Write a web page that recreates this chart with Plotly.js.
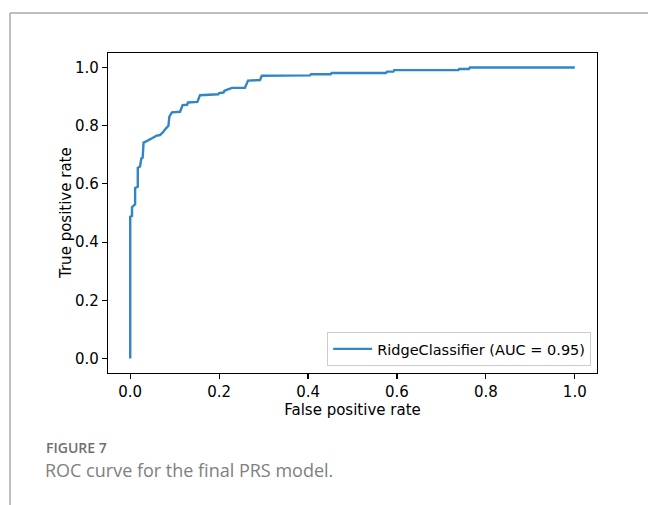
<!DOCTYPE html>
<html>
<head>
<meta charset="utf-8">
<script src="https://cdn.plot.ly/plotly-3.0.1.min.js"></script>
<style>
  html, body { margin: 0; padding: 0; background: #ffffff; }
  #chart { width: 648px; height: 505px; }
</style>
</head>
<body>
<div id="chart"></div>
<script>
// ROC curve points (false positive rate, true positive rate)
const fpr = [0, 0, 0.004, 0.004, 0.011, 0.011, 0.017, 0.017, 0.022, 0.025, 0.028, 0.030,
  0.037, 0.045, 0.049, 0.055, 0.058, 0.067, 0.072, 0.075, 0.080, 0.083, 0.086, 0.088,
  0.094, 0.112, 0.114, 0.118, 0.128, 0.130, 0.151, 0.157, 0.198, 0.200, 0.210, 0.212,
  0.217, 0.225, 0.229, 0.258, 0.265, 0.292, 0.296, 0.404, 0.407, 0.451, 0.453, 0.575,
  0.578, 0.592, 0.594, 0.738, 0.740, 0.762, 0.764, 1.0];
const tpr = [0, 0.487, 0.490, 0.520, 0.530, 0.586, 0.590, 0.655, 0.660, 0.688, 0.690, 0.742,
  0.747, 0.752, 0.757, 0.762, 0.765, 0.768, 0.775, 0.780, 0.790, 0.797, 0.800, 0.831,
  0.846, 0.848, 0.855, 0.871, 0.872, 0.880, 0.882, 0.905, 0.908, 0.912, 0.914, 0.920,
  0.923, 0.926, 0.930, 0.930, 0.955, 0.957, 0.972, 0.973, 0.977, 0.977, 0.981, 0.981,
  0.986, 0.986, 0.991, 0.991, 0.995, 0.995, 1.0, 1.0];
const seriesName = "RidgeClassifier (AUC = 0.95)";
const tickValues = [0, 0.2, 0.4, 0.6, 0.8, 1.0];
const tickLabels = ["0.0", "0.2", "0.4", "0.6", "0.8", "1.0"];
const xTitle = "False positive rate";
const yTitle = "True positive rate";
const figLabel = "FIGURE 7";
const captionText = "ROC curve for the final PRS model.";

// pixel helpers for the figure frame (plot area: x 108..597, y 53..373)
const L = 108, R = 597, T = 53, B = 373;
const px = v => (v - L) / (R - L);
const py = v => (B - v) / (B - T);

const axisFont = { family: "DejaVu Sans", size: 15, color: "#000000" };

const trace = {
  x: fpr, y: tpr, type: "scatter", mode: "lines", name: seriesName,
  line: { color: "#3186c6", width: 2.4 }
};

const layout = {
  width: 648, height: 505,
  margin: { l: L, r: 648 - R, t: T, b: 505 - B, pad: 0 },
  paper_bgcolor: "#ffffff", plot_bgcolor: "#ffffff",
  showlegend: true,
  legend: {
    x: 0.988, xanchor: "right", y: 0.022, yanchor: "bottom",
    bgcolor: "#ffffff", bordercolor: "#cccccc", borderwidth: 1,
    font: { family: "DejaVu Sans", size: 14.5, color: "#000000" }, itemwidth: 39
  },
  xaxis: {
    range: [-0.05, 1.05], tickvals: tickValues, ticktext: tickLabels,
    showgrid: false, zeroline: false, showline: true, mirror: true,
    linecolor: "#000000", linewidth: 1.1, ticks: "outside", ticklen: 5,
    tickwidth: 1.1, tickcolor: "#000000", tickfont: axisFont,
    title: { text: xTitle, font: axisFont, standoff: 3 }
  },
  yaxis: {
    range: [-0.05, 1.05], tickvals: tickValues, ticktext: tickLabels,
    showgrid: false, zeroline: false, showline: true, mirror: true,
    linecolor: "#000000", linewidth: 1.1, ticks: "outside", ticklen: 5,
    tickwidth: 1.1, tickcolor: "#000000", tickfont: axisFont
  },
  shapes: [
    { type: "line", xref: "paper", yref: "paper", x0: px(10), x1: px(648), y0: py(13), y1: py(13),
      line: { color: "#a8a8a8", width: 1.5 } },
    { type: "line", xref: "paper", yref: "paper", x0: px(10), x1: px(10), y0: py(13), y1: py(505),
      line: { color: "#a8a8a8", width: 1.5 } }
  ],
  annotations: [
    { text: yTitle, xref: "paper", yref: "paper", x: px(66), y: py(213),
      xanchor: "center", yanchor: "middle", textangle: -90, showarrow: false,
      font: axisFont },
    { text: figLabel, xref: "paper", yref: "paper", x: px(44), y: py(447),
      xanchor: "left", yanchor: "middle", showarrow: false,
      font: { family: "Open Sans", size: 14, color: "#6f6f6f", weight: 600 } },
    { text: captionText, xref: "paper", yref: "paper", x: px(43), y: py(470),
      xanchor: "left", yanchor: "middle", showarrow: false,
      font: { family: "Open Sans", size: 18, color: "#808080", weight: 400 } }
  ]
};

Plotly.newPlot("chart", [trace], layout, { displayModeBar: false, staticPlot: true });
</script>
</body>
</html>
